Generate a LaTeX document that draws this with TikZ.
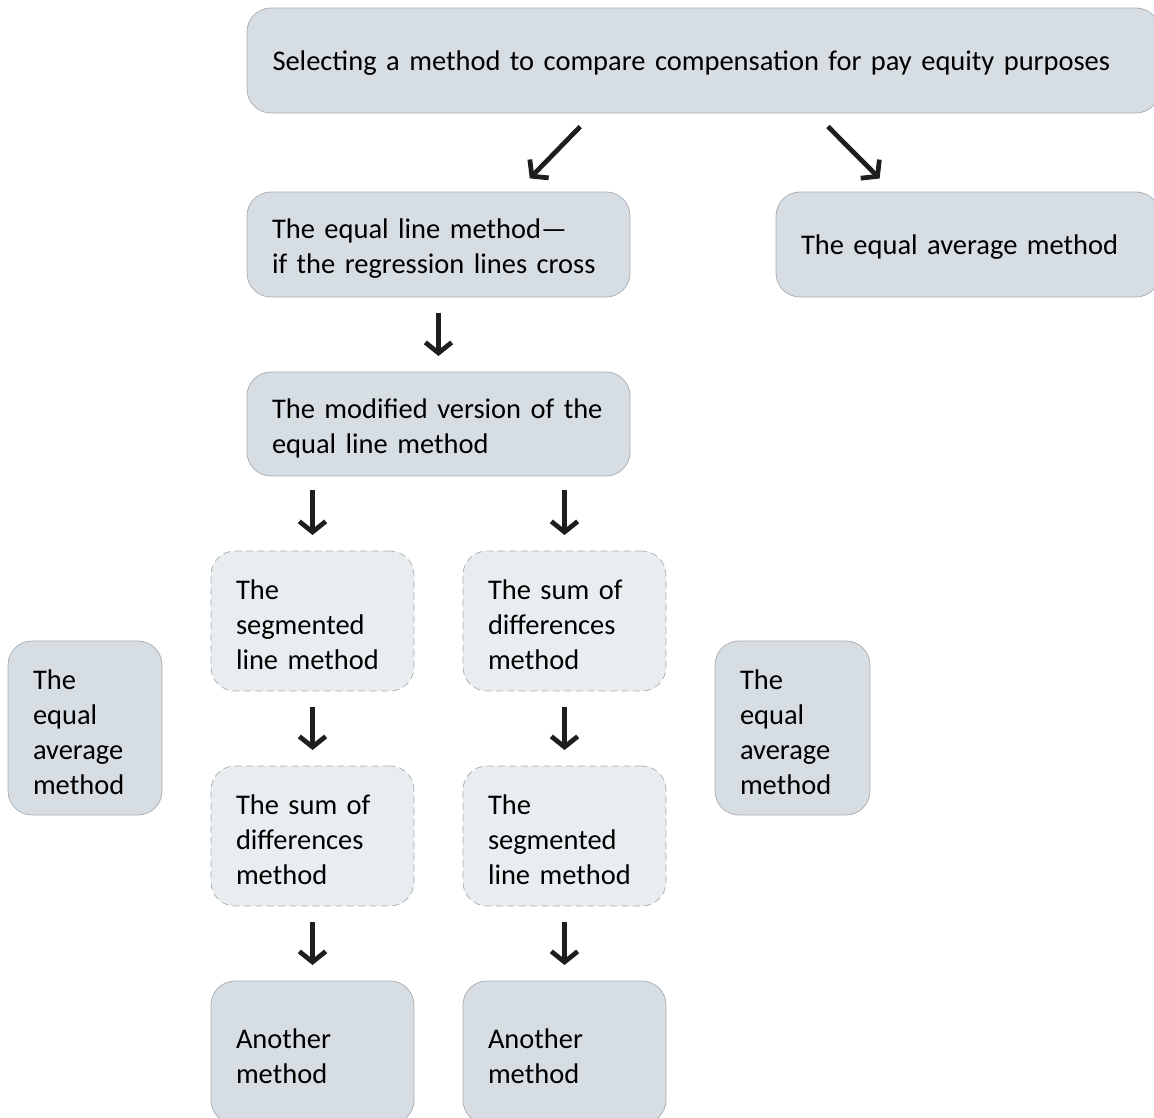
\documentclass[tikz,border=0pt]{standalone}
\usepackage{fontspec}
\setmainfont{Carlito}
\usepackage{tikz}
\usetikzlibrary{positioning}
\usetikzlibrary{arrows.meta,calc}
\definecolor{boxfill}{RGB}{214,222,227}
\definecolor{boxfilllight}{RGB}{232,237,240}
\definecolor{boxline}{RGB}{170,172,175}
\definecolor{arrowcol}{RGB}{30,30,30}
\tikzset{
    %Define standard arrow tip
    >={Straight Barb[length=6pt,width=15pt]},
    % Define arrow style
    pil/.style={
           ->,
           line width=2.7pt,
           arrowcol,
           shorten <=16*\px,
           shorten >=16*\px,}
}
\newcommand{\px}{0.02cm}
\newcommand{\widebox}{383}
\newcommand{\narrowbox}{203}

\begin{document}
\begin{tikzpicture}[x=0.02cm, y=-0.02cm, outer sep=0pt]
\tikzstyle{meth}=[ draw=boxline,
                  rectangle, rounded corners=24*\px,
                  fill=boxfill,
                  inner xsep=25*\px, inner ysep=0pt,
                  align=left,
                  font=\fontsize{16.2}{19.9}\selectfont,
                  execute at end node={\endgraf\vspace*{-0.16cm}},
                  anchor=north west]
\tikzstyle{methopt}=[ meth,
                  dashed, dash pattern=on 4pt off 2.5pt,
                  fill=boxfilllight]

\useasboundingbox (0,0) rectangle (1154,1118);

\node[meth, minimum width=913*\px, minimum height=105*\px, text width=862*\px]
      (select) at (247,8) {Selecting a method to compare compensation for pay equity purposes};
\node[meth, minimum width=\widebox*\px, minimum height=105*\px, text width=333*\px]
      (eqline) at (247,192) {The equal line method---\\if the regression lines cross};
\node[meth, minimum width=384*\px, minimum height=105*\px, text width=334*\px]
      (eqavg) at (776,192) {The equal average method};
\node[meth, minimum width=\widebox*\px, minimum height=104*\px, text width=333*\px]
      (modif) [below = 75*\px of eqline.south west, anchor=north west] {The modified version of the\\equal line method};

\node[methopt, minimum width=\narrowbox*\px, minimum height=140*\px, text width=153*\px]
      (segA) at (211,551) {The\\segmented\\line method};
\node[methopt, minimum width=\narrowbox*\px, minimum height=140*\px, text width=153*\px]
      (sumA) at (463,551) {The sum of\\differences\\method};
\node[methopt, minimum width=\narrowbox*\px, minimum height=140*\px, text width=153*\px]
      (sumB) [below = 75*\px of segA.south west, anchor=north west] {The sum of\\differences\\method};
\node[methopt, minimum width=\narrowbox*\px, minimum height=140*\px, text width=153*\px]
      (segB) [below = 75*\px of sumA.south west, anchor=north west] {The\\segmented\\line method};

\node[meth, minimum width=\narrowbox*\px, minimum height=143*\px, text width=153*\px]
      (otherA) [below = 75*\px of sumB.south west, anchor=north west] {Another\\method};
\node[meth, minimum width=\narrowbox*\px, minimum height=143*\px, text width=153*\px]
      (otherB) [below = 75*\px of segB.south west, anchor=north west] {Another\\method};

\node[meth, minimum width=154*\px, minimum height=174*\px, text width=104*\px]
      (eqavgL) at (8,641) {The\\equal\\average\\method};
\node[meth, minimum width=155*\px, minimum height=174*\px, text width=105*\px]
      (eqavgR) at (715,641) {The\\equal\\average\\method};

\draw[pil, shorten <=19*\px, shorten >=19*\px] ([xshift=-110*\px]select.south) -- ([xshift=78*\px]eqline.north);
\draw[pil, shorten <=19*\px, shorten >=19*\px] ([xshift=111*\px]select.south) -- ([xshift=-75*\px]eqavg.north);
\draw[pil] (eqline.south) -- (modif.north);
\draw[pil, shorten <=14*\px] (segA.north |- modif.south) -- (segA.north);
\draw[pil, shorten <=14*\px] (sumA.north |- modif.south) -- (sumA.north);
\draw[pil] (segA.south) -- (sumB.north);
\draw[pil] (sumA.south) -- (segB.north);
\draw[pil] (sumB.south) -- (otherA.north);
\draw[pil] (segB.south) -- (otherB.north);

\end{tikzpicture}
\end{document}
